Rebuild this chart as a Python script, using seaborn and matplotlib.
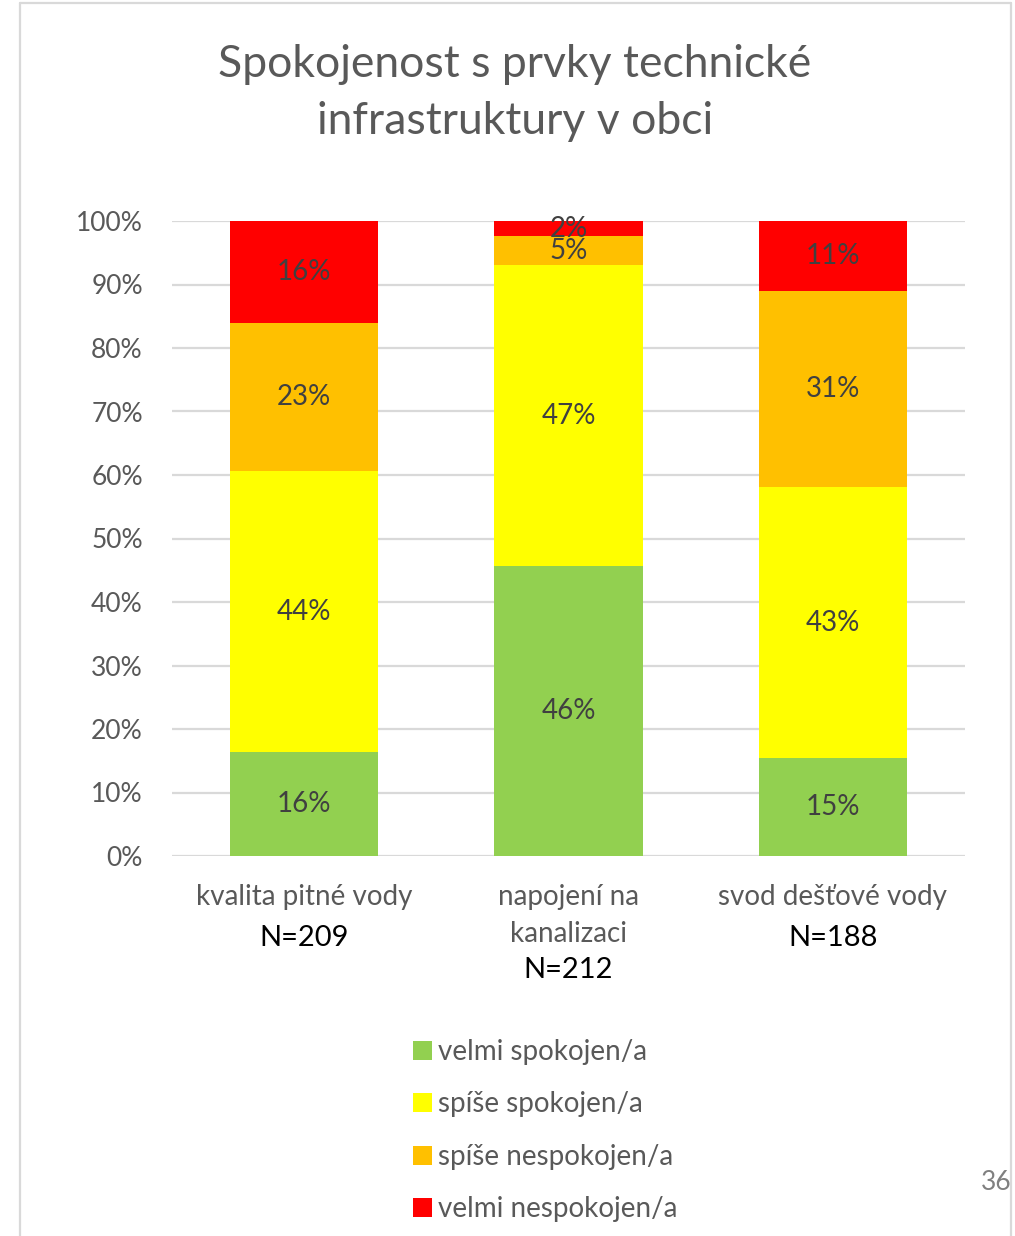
import numpy as np
import matplotlib
matplotlib.use("Agg")
import matplotlib.pyplot as plt
import seaborn as sns
from matplotlib.patches import Patch
from matplotlib.lines import Line2D

# data (percent of respondents)
categories = ["kvalita pitné vody", "napojení na\nkanalizaci", "svod dešťové vody"]
sample_sizes = ["N=209", "N=212", "N=188"]
series_names = ["velmi spokojen/a", "spíše spokojen/a", "spíše nespokojen/a", "velmi nespokojen/a"]
velmi_spokojen = [16.4, 45.6, 15.4]
spise_spokojen = [44.2, 47.4, 42.7]
spise_nespokojen = [23.4, 4.6, 30.9]
velmi_nespokojen = [16.0, 2.4, 11.0]
y_ticks = [0, 10, 20, 30, 40, 50, 60, 70, 80, 90, 100]

colors = ["#92D050", "#FFFF00", "#FFC000", "#FF0000"]

sns.set_style("white")
plt.rcParams["font.family"] = ["Lato", "DejaVu Sans"]

fig = plt.figure(figsize=(10.15, 12.36), dpi=100)
ax = fig.add_axes([172 / 1015, 1 - 856 / 1236, (965 - 172) / 1015, (856 - 221) / 1236])

series = [velmi_spokojen, spise_spokojen, spise_nespokojen, velmi_nespokojen]
cum = np.cumsum(np.array(series), axis=0)

# stacked bars: draw the tallest cumulative first, then overdraw
for i in range(len(series) - 1, -1, -1):
    sns.barplot(x=categories, y=cum[i], color=colors[i], width=0.56,
                saturation=1, linewidth=0, ax=ax, zorder=2)

# segment labels
for i, vals in enumerate(series):
    for j, v in enumerate(vals):
        mid = cum[i][j] - v / 2
        ax.text(j, mid, f"{v:.0f}%", ha="center", va="center",
                fontsize=20, color="#404040", zorder=3)

ax.set_ylim(0, 100)
ax.set_xlim(-0.5, 2.5)
ax.set_yticks(y_ticks)
ax.set_yticklabels([f"{t}%" for t in y_ticks])
ax.yaxis.grid(True, color="#D9D9D9", linewidth=1.6, zorder=0)
ax.set_axisbelow(True)
for s in ax.spines.values():
    s.set_visible(False)
ax.tick_params(axis="y", length=0, pad=21, labelsize=19, labelcolor="#595959")
ax.tick_params(axis="x", length=0, pad=20, labelsize=20, labelcolor="#595959")
for lab in ax.get_xticklabels():
    lab.set_linespacing(1.55)
ax.set_xlabel("")
ax.set_ylabel("")

# N= labels under the category names
n_offsets = [82, 114, 82]
for j, (lab, off) in enumerate(zip(sample_sizes, n_offsets)):
    ax.annotate(lab, xy=(j, 0), xycoords=("data", "axes fraction"),
                xytext=(0, -off / 1.389), textcoords="offset points",
                ha="center", va="center", fontsize=21, color="black")

fig.suptitle("Spokojenost s prvky technické\ninfrastruktury v obci",
             x=515 / 1015, y=1 - 44 / 1236, va="top", fontsize=32,
             color="#595959", linespacing=1.48)

handles = [Patch(facecolor=c, edgecolor="none") for c in colors]
fig.legend(handles, series_names, loc="upper left",
           bbox_to_anchor=(413 / 1015, 1 - 1039 / 1236), frameon=False,
           fontsize=20, labelcolor="#595959", handlelength=0.68,
           handleheight=0.68, handletextpad=0.22, labelspacing=0.95,
           borderpad=0, borderaxespad=0)

# page number and slide frame
fig.text(1012 / 1015, 1 - 1182 / 1236, "36", ha="right", va="center",
         fontsize=19, color="#808080")
frame_kw = dict(color="#D9D9D9", linewidth=1.6, transform=fig.transFigure)
fig.add_artist(Line2D([20 / 1015, 20 / 1015], [0, 1 - 3 / 1236], **frame_kw))
fig.add_artist(Line2D([20 / 1015, 1011 / 1015], [1 - 3 / 1236, 1 - 3 / 1236], **frame_kw))
fig.add_artist(Line2D([1011 / 1015, 1011 / 1015], [0, 1 - 3 / 1236], **frame_kw))

fig.savefig("out.png", dpi=100)
